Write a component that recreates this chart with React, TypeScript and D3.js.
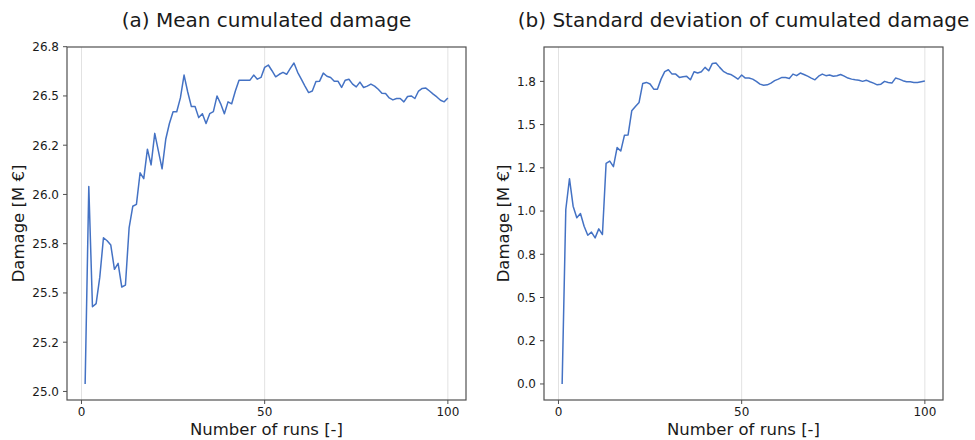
import React from "react";
import * as d3 from "d3";

// ---- data ----
const meanDamage: number[] = [
  25.038, 26.04, 25.43, 25.446, 25.58, 25.78, 25.765, 25.743, 25.62, 25.65,
  25.53, 25.54, 25.83, 25.94, 25.95, 26.11, 26.08, 26.23, 26.15, 26.31,
  26.22, 26.13, 26.28, 26.36, 26.42, 26.42, 26.49, 26.606, 26.52, 26.446,
  26.446, 26.39, 26.41, 26.36, 26.41, 26.42, 26.5, 26.46, 26.41, 26.47,
  26.46, 26.525, 26.58, 26.58, 26.58, 26.58, 26.606, 26.585, 26.594, 26.645,
  26.657, 26.628, 26.597, 26.61, 26.62, 26.61, 26.64, 26.667, 26.62, 26.585,
  26.55, 26.517, 26.525, 26.573, 26.575, 26.616, 26.6, 26.594, 26.575, 26.575,
  26.543, 26.58, 26.585, 26.56, 26.546, 26.57, 26.543, 26.55, 26.56, 26.55,
  26.534, 26.514, 26.512, 26.49, 26.48, 26.487, 26.487, 26.47, 26.497, 26.5,
  26.487, 26.525, 26.538, 26.54, 26.525, 26.509, 26.495, 26.478, 26.47, 26.49,
];

const stdDamage: number[] = [
  0.0, 1.009, 1.187, 1.028, 0.961, 0.986, 0.912, 0.86, 0.878, 0.845,
  0.897, 0.864, 1.276, 1.289, 1.257, 1.367, 1.347, 1.438, 1.44, 1.58,
  1.605, 1.628, 1.738, 1.744, 1.735, 1.705, 1.705, 1.763, 1.806, 1.817,
  1.792, 1.792, 1.773, 1.777, 1.779, 1.759, 1.806, 1.798, 1.806, 1.831,
  1.811, 1.854, 1.856, 1.831, 1.808, 1.796, 1.79, 1.777, 1.763, 1.787,
  1.769, 1.769, 1.763, 1.75, 1.734, 1.728, 1.73, 1.74, 1.754, 1.763,
  1.773, 1.772, 1.767, 1.792, 1.783, 1.798, 1.79, 1.78, 1.769, 1.759,
  1.78, 1.792, 1.783, 1.787, 1.78, 1.783, 1.79, 1.78, 1.769, 1.763,
  1.759, 1.757, 1.75, 1.757, 1.748, 1.74, 1.73, 1.734, 1.75, 1.744,
  1.74, 1.769, 1.763, 1.754, 1.748, 1.748, 1.744, 1.744, 1.748, 1.752,
];

const runs: number[] = d3.range(1, meanDamage.length + 1);

const xTickValues: number[] = [0, 50, 100];
const xTickLabels: string[] = ["0", "50", "100"];

const meanTickValues: number[] = [25.0, 25.25, 25.5, 25.75, 26.0, 26.25, 26.5, 26.75];
const meanTickLabels: string[] = ["25.0", "25.2", "25.5", "25.8", "26.0", "26.2", "26.5", "26.8"];

const stdTickValues: number[] = [0.0, 0.25, 0.5, 0.75, 1.0, 1.25, 1.5, 1.75];
const stdTickLabels: string[] = ["0.0", "0.2", "0.5", "0.8", "1.0", "1.2", "1.5", "1.8"];

const titles: string[] = ["(a) Mean cumulated damage", "(b) Standard deviation of cumulated damage"];
const xLabel = "Number of runs [-]";
const yLabel = "Damage [M €]";

// ---- styling ----
const FONT = "'DejaVu Sans', Verdana, sans-serif";
const LINE_COLOR = "#4472c4";
const FRAME_COLOR = "#505050";
const GRID_COLOR = "#e2e2e2";
const TEXT_COLOR = "#1a1a1a";

const TOP = 47;
const BOTTOM = 400;

type PanelProps = {
  left: number;
  right: number;
  values: number[];
  tickValues: number[];
  tickLabels: string[];
  title: string;
  ylabelX: number;
};

function padded(values: number[]): [number, number] {
  const [lo, hi] = d3.extent(values) as [number, number];
  const pad = (hi - lo) * 0.05;
  return [lo - pad, hi + pad];
}

function Panel({ left, right, values, tickValues, tickLabels, title, ylabelX }: PanelProps) {
  const [x0, x1] = d3.extent(runs) as [number, number];
  const xPad = (x1 - x0) * 0.05;
  const x = d3.scaleLinear().domain([x0 - xPad, x1 + xPad]).range([left, right]);
  const y = d3.scaleLinear().domain(padded(values)).range([BOTTOM, TOP]);
  const line = d3
    .line<number>()
    .x((_, i) => x(runs[i]))
    .y((d) => y(d));
  const cx = (left + right) / 2;
  const cy = (TOP + BOTTOM) / 2;
  return (
    <g>
      {/* grid */}
      {xTickValues.map((t) => (
        <line key={"g" + t} x1={x(t)} x2={x(t)} y1={TOP} y2={BOTTOM} stroke={GRID_COLOR} strokeWidth={1} />
      ))}
      {/* data line */}
      <path d={line(values) || ""} fill="none" stroke={LINE_COLOR} strokeWidth={1.5} strokeLinejoin="round" />
      {/* frame */}
      <rect x={left} y={TOP} width={right - left} height={BOTTOM - TOP} fill="none" stroke={FRAME_COLOR} strokeWidth={1.2} />
      {/* x ticks */}
      {xTickValues.map((t, i) => (
        <g key={"x" + t}>
          <line x1={x(t)} x2={x(t)} y1={BOTTOM} y2={BOTTOM + 4} stroke={FRAME_COLOR} strokeWidth={1} />
          <text x={x(t)} y={416} textAnchor="middle" fontSize={12} fill={TEXT_COLOR} fontFamily={FONT}>
            {xTickLabels[i]}
          </text>
        </g>
      ))}
      {/* y ticks */}
      {tickValues.map((t, i) => (
        <g key={"y" + t}>
          <line x1={left - 4} x2={left} y1={y(t)} y2={y(t)} stroke={FRAME_COLOR} strokeWidth={1} />
          <text x={left - 8} y={y(t)} dy="0.36em" textAnchor="end" fontSize={12} fill={TEXT_COLOR} fontFamily={FONT}>
            {tickLabels[i]}
          </text>
        </g>
      ))}
      {/* title */}
      <text x={cx} y={27} textAnchor="middle" fontSize={20} fill={TEXT_COLOR} fontFamily={FONT}>
        {title}
      </text>
      {/* axis labels */}
      <text x={cx} y={435} textAnchor="middle" fontSize={16.5} fill={TEXT_COLOR} fontFamily={FONT}>
        {xLabel}
      </text>
      <text
        transform={`translate(${ylabelX},${cy}) rotate(-90)`}
        textAnchor="middle"
        fontSize={16.5}
        fill={TEXT_COLOR}
        fontFamily={FONT}
      >
        {yLabel}
      </text>
    </g>
  );
}

export default function App() {
  return (
    <svg
      width={975}
      height={440}
      viewBox="0 0 975 440"
      style={{ position: "absolute", left: 0, top: 0, background: "#ffffff" }}
    >
      <rect x={0} y={0} width={975} height={440} fill="#ffffff" />
      <Panel
        left={67}
        right={466}
        values={meanDamage}
        tickValues={meanTickValues}
        tickLabels={meanTickLabels}
        title={titles[0]}
        ylabelX={24}
      />
      <Panel
        left={544}
        right={943}
        values={stdDamage}
        tickValues={stdTickValues}
        tickLabels={stdTickLabels}
        title={titles[1]}
        ylabelX={509}
      />
    </svg>
  );
}
